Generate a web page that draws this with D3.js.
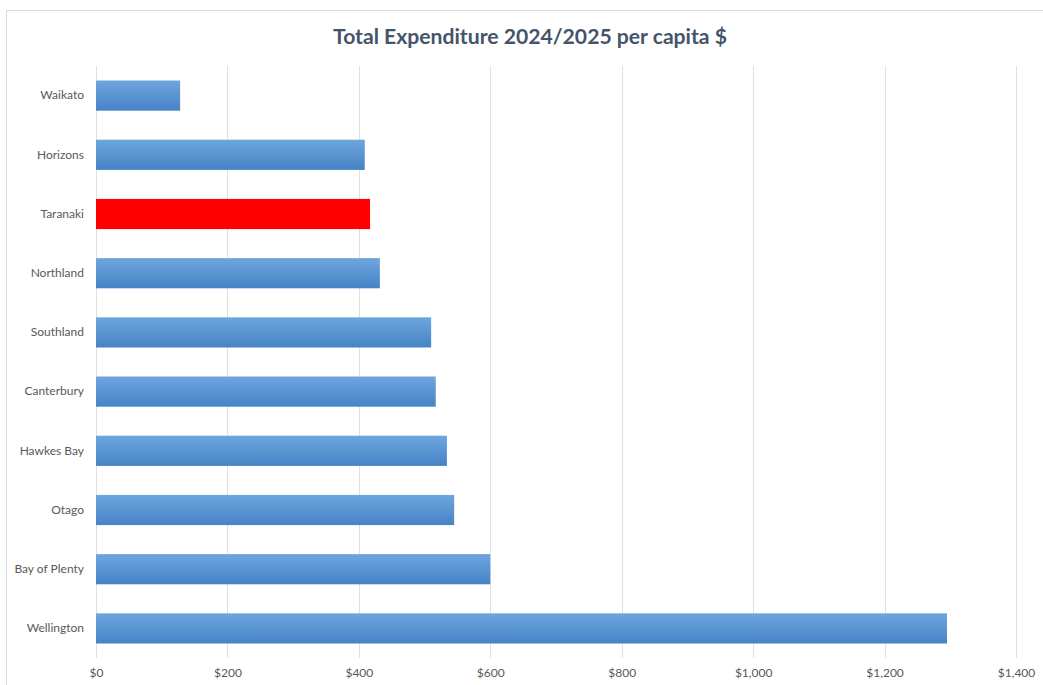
<!DOCTYPE html>
<html>
<head>
<meta charset="utf-8">
<script src="https://cdn.jsdelivr.net/npm/d3@7"></script>
<style>
  html, body { margin: 0; padding: 0; background: #ffffff; }
  svg { display: block; }
</style>
</head>
<body>
<svg id="chart" width="1043" height="685"></svg>
<script>
// Regional council expenditure per capita, 2024/2025
const regions = ["Waikato", "Horizons", "Taranaki", "Northland", "Southland",
                 "Canterbury", "Hawkes Bay", "Otago", "Bay of Plenty", "Wellington"];
const perCapita = [128, 409, 417, 432, 510, 517, 534, 545, 600, 1295];
const highlighted = ["Taranaki"];
const xTicks = [0, 200, 400, 600, 800, 1000, 1200, 1400];
const chartTitle = "Total Expenditure 2024/2025 per capita $";

const svg = d3.select("#chart");
const W = 1043, H = 685;
const m = { left: 96, right: 1016, top: 66, bottom: 658 };
const font = "Lato, 'Open Sans', sans-serif";

// chart frame
svg.append("rect")
  .attr("x", 6.5).attr("y", 10.5)
  .attr("width", W + 10).attr("height", H + 10)
  .attr("fill", "#fff").attr("stroke", "#d9d9d9").attr("stroke-width", 1);

const defs = svg.append("defs");
const grad = defs.append("linearGradient")
  .attr("id", "barFill").attr("x1", 0).attr("y1", 0).attr("x2", 0).attr("y2", 1);
grad.append("stop").attr("offset", "0%").attr("stop-color", "#6ea6de");
grad.append("stop").attr("offset", "100%").attr("stop-color", "#4683c6");

const x = d3.scaleLinear().domain([0, 1400]).range([m.left, m.right]);
const y = d3.scaleBand().domain(regions).range([m.top, m.bottom]).paddingInner(0.49).paddingOuter(0.245);

// vertical gridlines
svg.append("g")
  .selectAll("line")
  .data(xTicks)
  .join("line")
  .attr("x1", d => Math.round(x(d)) + 0.5).attr("x2", d => Math.round(x(d)) + 0.5)
  .attr("y1", m.top).attr("y2", m.bottom)
  .attr("stroke", "#e0e0e0").attr("stroke-width", 1);

// x axis labels
const xAxis = d3.axisBottom(x).tickValues(xTicks).tickSize(0).tickPadding(0)
  .tickFormat(d => "$" + d3.format(",")(d));
const gx = svg.append("g").attr("transform", `translate(0, ${m.bottom + 10})`).call(xAxis);
gx.select(".domain").remove();
gx.selectAll("text").attr("font-family", font).attr("font-size", 12).attr("fill", "#595959");

// y axis labels
const yAxis = d3.axisLeft(y).tickSize(0).tickPadding(12);
const gy = svg.append("g").attr("transform", `translate(${m.left}, 0)`).call(yAxis);
gy.select(".domain").remove();
gy.selectAll("text").attr("font-family", font).attr("font-size", 12).attr("fill", "#595959");

// bars
svg.append("g")
  .selectAll("rect")
  .data(regions.map((r, i) => ({ region: r, value: perCapita[i] })))
  .join("rect")
  .attr("x", x(0))
  .attr("y", d => y(d.region))
  .attr("width", d => x(d.value) - x(0))
  .attr("height", y.bandwidth())
  .attr("fill", d => highlighted.includes(d.region) ? "#ff0000" : "url(#barFill)");

// title
svg.append("text")
  .attr("x", 530).attr("y", 44)
  .attr("text-anchor", "middle")
  .attr("font-family", font).attr("font-weight", 700).attr("font-size", 20)
  .attr("fill", "#44546a")
  .attr("textLength", 394).attr("lengthAdjust", "spacingAndGlyphs")
  .text(chartTitle);
</script>
</body>
</html>
